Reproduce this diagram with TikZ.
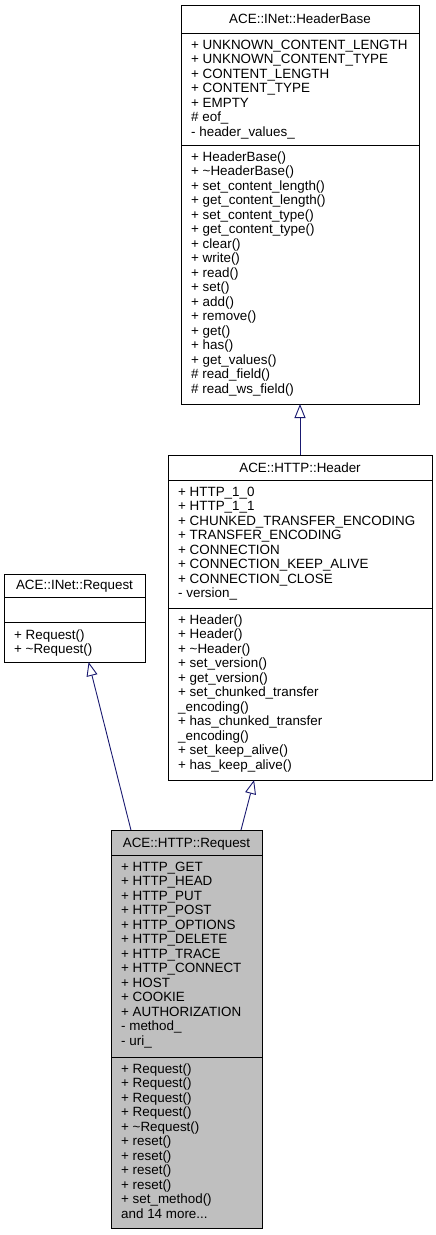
\documentclass[tikz,border=0pt]{standalone}
\usepackage{fontspec}
\setmainfont{Liberation Sans}
\usetikzlibrary{arrows.meta,calc}
\definecolor{edgec}{RGB}{25,25,112}
\definecolor{hl}{RGB}{191,191,191}
\newcommand{\mlines}[1]{\vtop{\lineskiplimit=-100pt\lineskip=0pt #1}}
\newcommand{\lnx}[1]{\hbox{#1}}
\begin{document}
\begin{tikzpicture}[x=1pt,y=-1pt,
  cls/.style={draw=black, line width=0.9pt, anchor=north west, inner sep=0pt, outer sep=0pt},
  sep/.style={draw=black, line width=0.9pt},
  txt/.style={anchor=base west, inner sep=0pt, font=\fontsize{13.4}{14.5}\selectfont},
  ttl/.style={anchor=base, inner sep=0pt, font=\fontsize{13.4}{14.5}\selectfont},
  inh/.style={draw=edgec, line width=0.9pt, {Triangle[open,length=14pt,width=11pt,fill=white]}-}
]
\useasboundingbox (0,0) rectangle (436,1235);

% ACE::INet::HeaderBase
\node[cls, minimum width=238pt, minimum height=399pt] (hb) at (181,5) {};
\draw[sep] (181,33) -- (419,33);
\draw[sep] (181,145) -- (419,145);
\node[ttl] (hbt) at (300,23) {ACE::INet::HeaderBase};
\node[txt] (hba) at (191,49) {\mlines{%
\lnx{+ UNKNOWN\_CONTENT\_LENGTH}
\lnx{+ UNKNOWN\_CONTENT\_TYPE}
\lnx{+ CONTENT\_LENGTH}
\lnx{+ CONTENT\_TYPE}
\lnx{+ EMPTY}
\lnx{\# eof\_}
\lnx{- header\_values\_}}};
\node[txt] (hbm) at (191,161) {\mlines{%
\lnx{+ HeaderBase()}
\lnx{+ \textasciitilde HeaderBase()}
\lnx{+ set\_content\_length()}
\lnx{+ get\_content\_length()}
\lnx{+ set\_content\_type()}
\lnx{+ get\_content\_type()}
\lnx{+ clear()}
\lnx{+ write()}
\lnx{+ read()}
\lnx{+ set()}
\lnx{+ add()}
\lnx{+ remove()}
\lnx{+ get()}
\lnx{+ has()}
\lnx{+ get\_values()}
\lnx{\# read\_field()}
\lnx{\# read\_ws\_field()}}};

% ACE::HTTP::Header
\node[cls, minimum width=264pt, minimum height=325pt] (hd) at (168,455) {};
\draw[sep] (168,480) -- (432,480);
\draw[sep] (168,608) -- (432,608);
\node[ttl] (hdt) at (300,472) {ACE::HTTP::Header};
\node[txt] (hda) at (178,496) {\mlines{%
\lnx{+ HTTP\_1\_0}
\lnx{+ HTTP\_1\_1}
\lnx{+ CHUNKED\_TRANSFER\_ENCODING}
\lnx{+ TRANSFER\_ENCODING}
\lnx{+ CONNECTION}
\lnx{+ CONNECTION\_KEEP\_ALIVE}
\lnx{+ CONNECTION\_CLOSE}
\lnx{- version\_}}};
\node[txt] (hdm) at (178,624) {\mlines{%
\lnx{+ Header()}
\lnx{+ Header()}
\lnx{+ \textasciitilde Header()}
\lnx{+ set\_version()}
\lnx{+ get\_version()}
\lnx{+ set\_chunked\_transfer}
\lnx{\_encoding()}
\lnx{+ has\_chunked\_transfer}
\lnx{\_encoding()}
\lnx{+ set\_keep\_alive()}
\lnx{+ has\_keep\_alive()}}};

% ACE::INet::Request
\node[cls, minimum width=141pt, minimum height=88pt] (ir) at (4,574) {};
\draw[sep] (4,597) -- (145,597);
\draw[sep] (4,622) -- (145,622);
\node[ttl] (irt) at (74.5,589) {ACE::INet::Request};
\node[txt] (irm) at (14,639) {\mlines{%
\lnx{+ Request()}
\lnx{+ \textasciitilde Request()}}};

% ACE::HTTP::Request
\node[cls, fill=hl, minimum width=151pt, minimum height=398pt] (rq) at (111,830) {};
\draw[sep] (111,855) -- (262,855);
\draw[sep] (111,1057) -- (262,1057);
\node[ttl] (rqt) at (186.5,847) {ACE::HTTP::Request};
\node[txt] (rqa) at (121,871) {\mlines{%
\lnx{+ HTTP\_GET}
\lnx{+ HTTP\_HEAD}
\lnx{+ HTTP\_PUT}
\lnx{+ HTTP\_POST}
\lnx{+ HTTP\_OPTIONS}
\lnx{+ HTTP\_DELETE}
\lnx{+ HTTP\_TRACE}
\lnx{+ HTTP\_CONNECT}
\lnx{+ HOST}
\lnx{+ COOKIE}
\lnx{+ AUTHORIZATION}
\lnx{- method\_}
\lnx{- uri\_}}};
\node[txt] (rqm) at (121,1073) {\mlines{%
\lnx{+ Request()}
\lnx{+ Request()}
\lnx{+ Request()}
\lnx{+ Request()}
\lnx{+ \textasciitilde Request()}
\lnx{+ reset()}
\lnx{+ reset()}
\lnx{+ reset()}
\lnx{+ reset()}
\lnx{+ set\_method()}
\lnx{and 14 more...}}};

% inheritance connectors
\draw[inh] (hb.south) -- (hd.north);
\draw[inh] ($(hd.south west)!0.326!(hd.south east)$) -- ($(rq.north west)!0.861!(rq.north east)$);
\draw[inh] ($(ir.south west)!0.60!(ir.south east)$) -- ($(rq.north west)!0.132!(rq.north east)$);
\end{tikzpicture}
\end{document}
